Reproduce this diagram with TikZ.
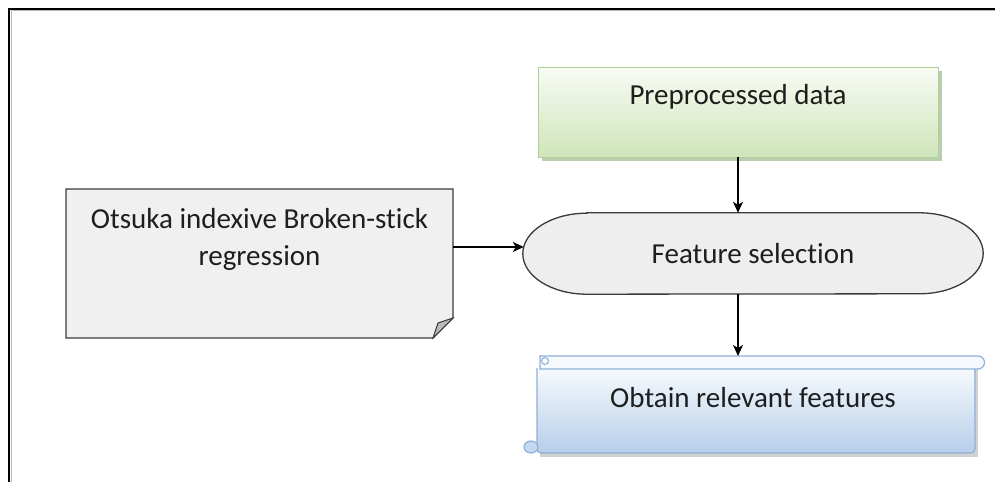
\documentclass[tikz,border=0pt]{standalone}
\usepackage{fontspec}
\setmainfont{Carlito}[Ligatures=NoCommon]
\usetikzlibrary{arrows.meta,backgrounds,calc}
\definecolor{txt}{HTML}{1E1E1E}
\definecolor{gTop}{HTML}{F8FBF4}
\definecolor{gBot}{HTML}{CFE5BA}
\definecolor{gEdge}{HTML}{AFD196}
\definecolor{gShadow}{HTML}{9DB78C}
\definecolor{bTop}{HTML}{F6F9FD}
\definecolor{bBot}{HTML}{B7CFEA}
\definecolor{bEdge}{HTML}{8FB0D8}
\definecolor{grayFill}{HTML}{F0F0F0}
\definecolor{termFill}{HTML}{EEEEEE}
\definecolor{darkEdge}{HTML}{3A3A3A}
\tikzset{
  lbl/.style={font=\fontsize{29}{37}\selectfont, text=txt, align=center, inner sep=0pt},
  shapebox/.style={draw=none, inner sep=0pt, outer sep=0pt},
  arr/.style={line width=1.5pt, -{Stealth[length=11pt,width=10pt,inset=3pt]}},
}
\begin{document}
\begin{tikzpicture}[x=1pt,y=1pt]
\useasboundingbox (0,0) rectangle (995,482);
% frame
\draw[gray!55, line width=1pt] (995,471) -- (11,471) -- (11,0);
\draw[black, line width=1.8pt] (995,473) -- (9,473) -- (9,0);

% nodes (shapes drawn on background)
\node[shapebox, minimum width=400pt, minimum height=90pt] (pre) at (738,370) {};
\node[lbl] (pretxt) at (738,385) {Preprocessed data};

\node[shapebox, minimum width=387pt, minimum height=149pt] (note) at (259.5,218.5) {};
\node[lbl] (notetxt) at (259.5,243) {Otsuka indexive Broken-stick\\regression};

\node[lbl, minimum width=460pt, minimum height=81pt] (term) at (753,228.5) {Feature selection};

\node[shapebox, minimum width=438pt, minimum height=97pt] (scroll) at (756,77.5) {};
\node[lbl] (obt) at (753,84) {Obtain relevant features};

\begin{scope}[on background layer]
  % green box
  \fill[gShadow!70] ([xshift=4pt,yshift=-4pt]pre.south west) rectangle ([xshift=4pt,yshift=-4pt]pre.north east);
  \shade[top color=gTop, bottom color=gBot] (pre.south west) rectangle (pre.north east);
  \draw[gEdge, line width=0.8pt] (pre.south west) rectangle (pre.north east);
  % note
  \draw[darkEdge, line width=1.4pt, fill=grayFill]
    (note.north west) -- (note.north east) -- ([yshift=20pt]note.south east)
    -- ([xshift=-20pt]note.south east) -- (note.south west) -- cycle;
  \draw[darkEdge, line width=1pt, fill=gray!55]
    ([yshift=20pt]note.south east) -- ([xshift=-15pt,yshift=15pt]note.south east)
    -- ([xshift=-20pt]note.south east) -- cycle;
  % terminator
  \draw[darkEdge, line width=1.3pt, fill=termFill]
    ([xshift=64pt]term.north west) -- ([xshift=-64pt]term.north east)
    arc[start angle=90, end angle=-90, x radius=64pt, y radius=40.5pt]
    -- ([xshift=64pt]term.south west)
    arc[start angle=270, end angle=90, x radius=64pt, y radius=40.5pt] -- cycle;
  % scroll
  \fill[gray!35] ([xshift=3pt,yshift=-4pt]scroll.south west) rectangle ([xshift=3pt,yshift=-12pt]scroll.north east);
  \shade[top color=bTop, bottom color=bBot, rounded corners=4pt]
    ([yshift=-12pt]scroll.north west) -- (scroll.south west) -- (scroll.south east) -- ([yshift=-12pt]scroll.north east) -- cycle;
  \draw[bEdge, line width=1.2pt, rounded corners=4pt]
    ([yshift=-12pt]scroll.north west) -- (scroll.south west) -- (scroll.south east) -- ([yshift=-12pt]scroll.north east);
  \draw[bEdge, line width=1.2pt, fill=bBot!80] ([xshift=-6pt,yshift=6pt]scroll.south west) ellipse (7pt and 6pt);
  \draw[bEdge, line width=1.2pt, fill=bTop]
    ([xshift=3pt]scroll.north west) -- ([xshift=3pt]scroll.north east)
    arc[start angle=90, end angle=-90, radius=6.5pt]
    -- ([xshift=3pt,yshift=-13pt]scroll.north west) -- cycle;
  \draw[bEdge, line width=1pt, fill=bTop] ([xshift=8pt,yshift=-5pt]scroll.north west) circle (3.5pt);
\end{scope}

% connectors
\coordinate (tin) at ([xshift=1pt,yshift=6.5pt]term.west);
\draw[arr] (pre.south) -- (pre.south |- term.north);
\draw[arr] (note.east |- tin) -- (tin);
\draw[arr] (term.south -| pre.south) -- (scroll.north -| pre.south);
\end{tikzpicture}
\end{document}
